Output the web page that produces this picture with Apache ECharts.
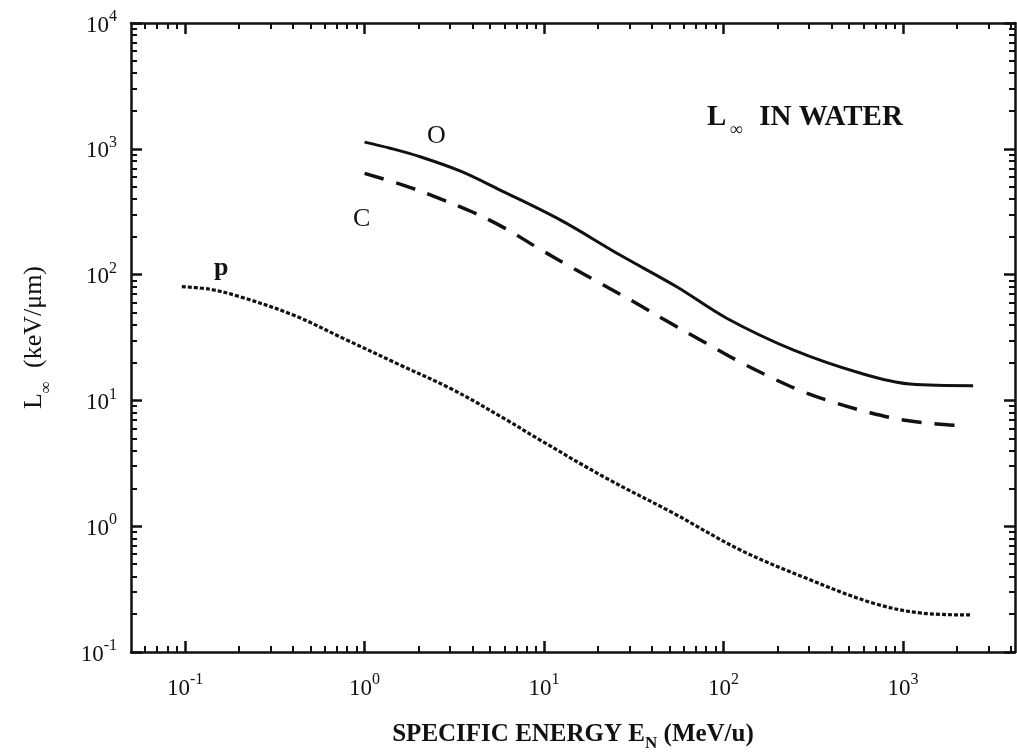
<!DOCTYPE html>
<html><head><meta charset="utf-8">
<script src="https://cdn.jsdelivr.net/npm/echarts@6/dist/echarts.min.js"></script>
<style>html,body{margin:0;padding:0;background:#fff}#c{width:1017px;height:755px}</style>
</head><body><div id="c"></div>
<script>
// ---- data ----
const protonEnergy = [0.096, 0.138, 0.202, 0.401, 0.796, 1.58, 3.13, 6.2, 9.5, 22.3, 52.5, 124, 290, 684, 1297, 2360];
const protonL      = [80.2, 76.4, 66.7, 47.7, 30.2, 19.1, 12.1, 6.98, 4.84, 2.40, 1.27, 0.647, 0.385, 0.244, 0.203, 0.197];
const carbonEnergy = [1.0, 1.64, 2.52, 3.96, 6.07, 9.29, 13.96, 21.4, 32.8, 47.2, 77.3, 118, 181, 278, 427, 655, 1005, 1541, 2264];
const carbonL      = [638, 515, 411, 316, 233, 162, 116, 82.6, 59, 43.5, 29.3, 20.9, 15.4, 11.7, 9.48, 7.98, 6.98, 6.49, 6.26];
const oxygenEnergy = [1.0, 1.39, 2.04, 3.40, 5.69, 12.3, 26.5, 54.8, 104, 244, 575, 1094, 2455];
const oxygenL      = [1130, 1010, 865, 667, 470, 272, 143, 80, 45, 25.2, 16.5, 13.5, 13.1];
const xDecades = [-1, 0, 1, 2, 3];          // tick labels 10^-1 ... 10^3
const yDecades = [-1, 0, 1, 2, 3, 4];       // tick labels 10^-1 ... 10^4
const xRange = [0.05, 4200];
const yRange = [0.1, 10000];

// ---- helpers ----
const L10 = Math.log10;
function toXY(es, ls) { return es.map((e, i) => [L10(e), L10(ls[i])]); }
function minorTicks(lo, hi) {
  const out = [];
  for (let d = Math.floor(lo) - 1; d <= Math.ceil(hi); d++) {
    for (let k = 2; k <= 9; k++) {
      const v = d + L10(k);
      if (v > lo + 1e-6 && v < hi - 1e-6) out.push(v);
    }
  }
  return out;
}
const XMIN = L10(xRange[0]), XMAX = L10(xRange[1]);
const YMIN = L10(yRange[0]), YMAX = L10(yRange[1]);
const FONT = "'Liberation Serif','DejaVu Serif','Times New Roman',serif";
const INK = '#111';

const labelRich = {
  b: { fontFamily: FONT, fontSize: 23, color: INK, lineHeight: 28, verticalAlign: 'bottom' },
  s: { fontFamily: FONT, fontSize: 16, color: INK, lineHeight: 28, verticalAlign: 'top' }
};
const fmt = v => '{b|10}{s|' + Math.round(v) + '}';

function axisSet(dim, pos, major, minor, lo, hi, withLabels, extra) {
  const base = {
    type: 'value', min: lo, max: hi, position: pos,
    splitLine: { show: false },
    axisLine: { show: true, onZero: false, lineStyle: { color: INK, width: 2.5 } }
  };
  const a = Object.assign({}, base, {
    axisTick: { show: true, inside: true, length: 11, customValues: major, lineStyle: { color: INK, width: 2.5 } },
    axisLabel: withLabels
      ? { show: true, customValues: major, formatter: fmt, rich: labelRich, margin: dim === 'x' ? 20 : 14 }
      : { show: false }
  }, extra || {});
  const b = Object.assign({}, base, {
    axisLine: { show: false, onZero: false },
    axisTick: { show: true, inside: true, length: 6, customValues: minor, lineStyle: { color: INK, width: 2 } },
    axisLabel: { show: false }
  });
  return [a, b];
}

const xMinor = minorTicks(XMIN, XMAX);
const yMinor = minorTicks(YMIN, YMAX);

const xAxes = [
  ...axisSet('x', 'bottom', xDecades, xMinor, XMIN, XMAX, true, {
    name: '{t|SPECIFIC ENERGY E}{n|N}{t| (MeV/u)}',
    nameLocation: 'middle', nameGap: 70,
    nameTextStyle: { rich: {
      t: { fontFamily: FONT, fontSize: 25, fontWeight: 'bold', color: INK, lineHeight: 30, verticalAlign: 'top' },
      n: { fontFamily: FONT, fontSize: 17, fontWeight: 'bold', color: INK, lineHeight: 30, verticalAlign: 'bottom' }
    } }
  }),
  ...axisSet('x', 'top', xDecades, xMinor, XMIN, XMAX, false)
];
const yAxes = [
  ...axisSet('y', 'left', yDecades, yMinor, YMIN, YMAX, true, {
    name: '{t|L}{n|∞}{t|  (keV/μm)}',
    nameLocation: 'middle', nameGap: 76, nameRotate: 90,
    nameTextStyle: { rich: {
      t: { fontFamily: FONT, fontSize: 26, color: INK, lineHeight: 34, verticalAlign: 'top' },
      n: { fontFamily: FONT, fontSize: 17, color: INK, lineHeight: 34, verticalAlign: 'bottom' }
    } }
  }),
  ...axisSet('y', 'right', yDecades, yMinor, YMIN, YMAX, false)
];

const chart = echarts.init(document.getElementById('c'), null, { renderer: 'canvas' });
chart.setOption({
  animation: false,
  backgroundColor: '#fff',
  grid: { left: 131, right: 2, top: 23, bottom: 103, containLabel: false, outerBoundsMode: 'none' },
  xAxis: xAxes,
  yAxis: yAxes,
  title: {
    text: '{l|L}{s|∞}{t|IN WATER}', left: 702, top: 98,
    textStyle: { rich: {
      l: { fontFamily: FONT, fontSize: 29, fontWeight: 'bold', color: INK, lineHeight: 36, verticalAlign: 'top' },
      s: { fontFamily: FONT, fontSize: 18, fontWeight: 'bold', color: INK, lineHeight: 36, verticalAlign: 'bottom', padding: [0, 16, 0, 4] },
      t: { fontFamily: FONT, fontSize: 29, fontWeight: 'bold', color: INK, lineHeight: 36, verticalAlign: 'top' }
    } }
  },
  graphic: [
    { type: 'text', left: 214, top: 255, style: { text: 'p', font: 'bold 26px ' + FONT, fill: INK } },
    { type: 'text', left: 427, top: 123, style: { text: 'O', font: '26px ' + FONT, fill: INK } },
    { type: 'text', left: 353, top: 206, style: { text: 'C', font: '26px ' + FONT, fill: INK } }
  ],
  series: [
    { name: 'p', type: 'line', xAxisIndex: 0, yAxisIndex: 0, data: toXY(protonEnergy, protonL),
      smooth: 0.35, showSymbol: false, lineStyle: { color: INK, width: 3.2, type: [4, 2] } },
    { name: 'C', type: 'line', xAxisIndex: 0, yAxisIndex: 0, data: toXY(carbonEnergy, carbonL),
      smooth: 0.35, showSymbol: false, lineStyle: { color: INK, width: 3.5, type: [20, 13] } },
    { name: 'O', type: 'line', xAxisIndex: 0, yAxisIndex: 0, data: toXY(oxygenEnergy, oxygenL),
      smooth: 0.35, showSymbol: false, lineStyle: { color: INK, width: 3 } }
  ]
});
</script></body></html>
